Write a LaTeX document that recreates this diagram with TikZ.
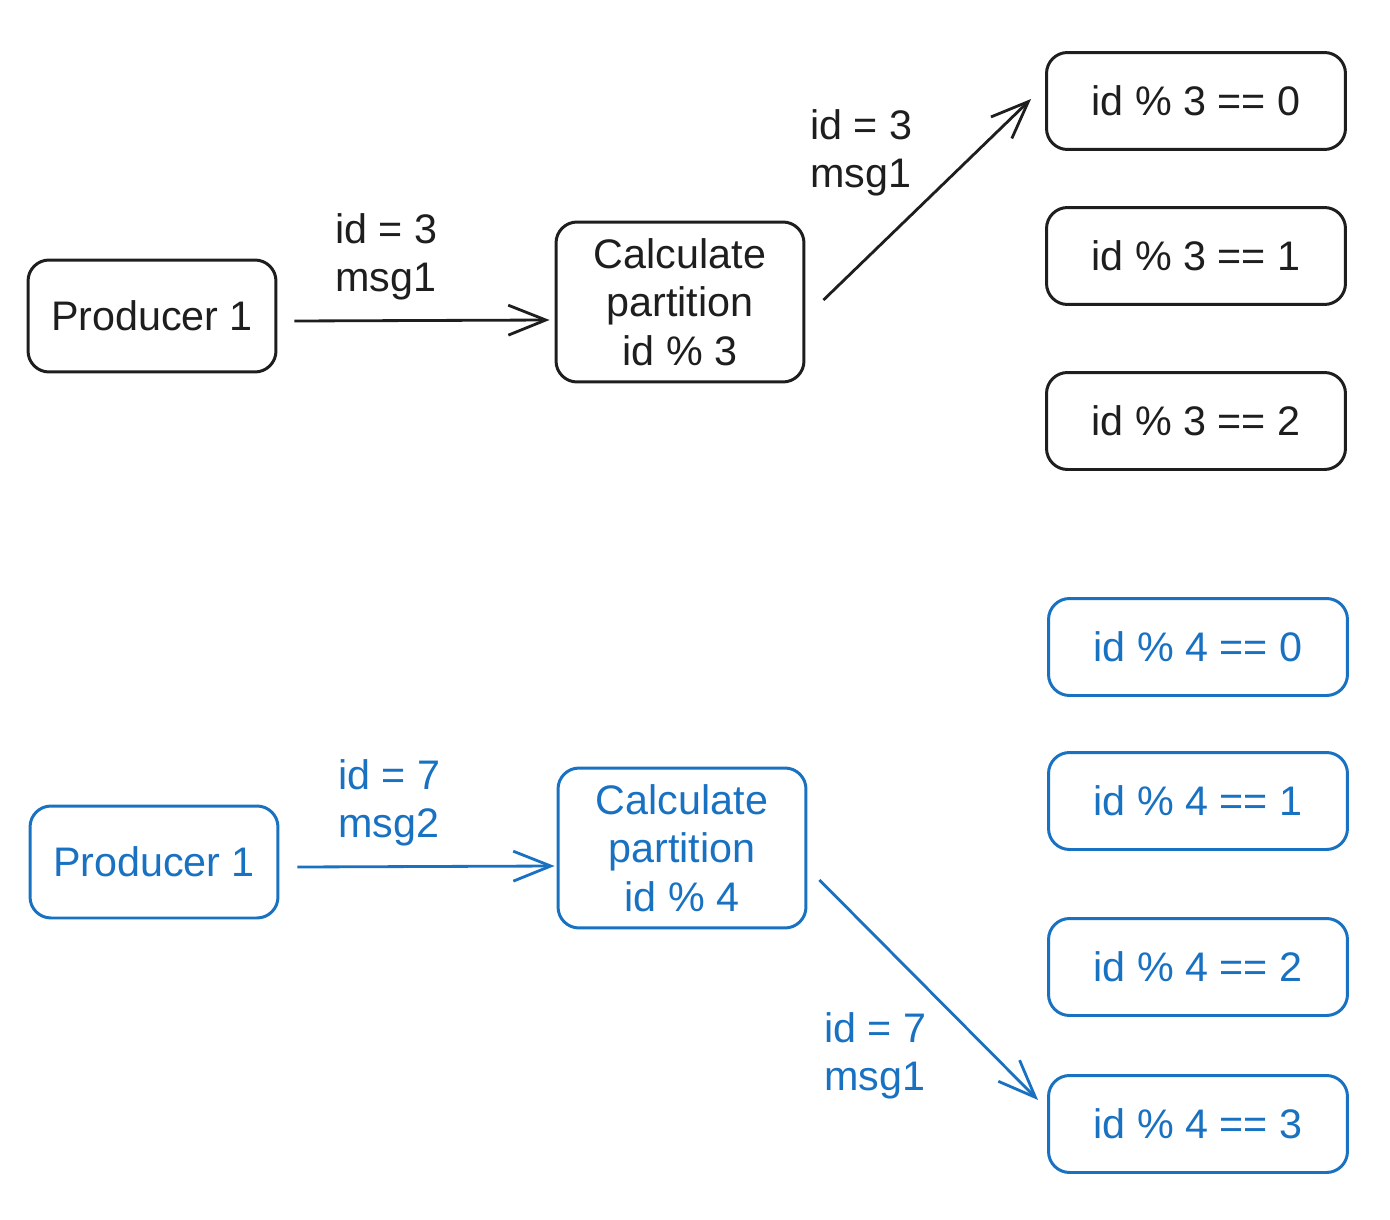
\documentclass[tikz,border=0pt]{standalone}
\usepackage{fontspec}
\setmainfont{Liberation Sans}
\usetikzlibrary{arrows.meta}
\definecolor{ink}{HTML}{1E1E1E}
\definecolor{blu}{HTML}{1971C2}
\begin{document}
\begin{tikzpicture}[x=0.02cm, y=-0.02cm,
    every node/.style={font=\fontsize{23.5}{27.5}\selectfont},
    box/.style={draw, rounded corners=0.42cm, line width=1.7pt, inner sep=0pt, align=center},
    prod/.style={box, minimum width=4.96cm, minimum height=2.24cm},
    calcbox/.style={box, minimum width=4.96cm, minimum height=3.2cm},
    part/.style={box, minimum width=5.98cm, minimum height=1.94cm},
    arr/.style={line width=1.6pt, -{Straight Barb[length=0.75cm, width=0.6cm, line width=1.6pt]}},
    lbl/.style={anchor=west, inner sep=0pt, align=left}]
  \useasboundingbox (0,0) rectangle (1390,1220);

  % Modulo 3
  \begin{scope}[ink, text=ink]
    \node[prod] (p1) at (152,316) {Producer 1};
    \node[calcbox] (c1) at (680,302) {Calculate\\partition\\id \% 3};
    \foreach \y/\k in {101/0,256/1,421/2} {
      \node[part] (m\k) at (1196,\y) {id \% 3 == \k};
    }
    \draw[arr] ([shift={(17,5)}]p1.east) -- ([shift={(-5,18)}]c1.west);
    \draw[arr] ([shift={(18,-2)}]c1.east) -- ([shift={(-14,-2)}]m0.west);
    \node[lbl] (l1) at (335,257) {id = 3\\msg1};
    \node[lbl] (l2) at (810,153) {id = 3\\msg1};
  \end{scope}

  % Modulo 4
  \begin{scope}[blu, text=blu]
    \node[prod] (p2) at (154,862) {Producer 1};
    \node[calcbox] (c2) at (682,848) {Calculate\\partition\\id \% 4};
    \foreach \y/\k in {647/0,801/1,967/2,1124/3} {
      \node[part] (n\k) at (1198,\y) {id \% 4 == \k};
    }
    \draw[arr] ([shift={(18,5)}]p2.east) -- ([shift={(-2,18)}]c2.west);
    \draw[arr] ([shift={(12,32)}]c2.east) -- ([shift={(-9,-24)}]n3.west);
    \node[lbl] (l3) at (338,803) {id = 7\\msg2};
    \node[lbl] (l4) at (824,1056) {id = 7\\msg1};
  \end{scope}
\end{tikzpicture}
\end{document}
